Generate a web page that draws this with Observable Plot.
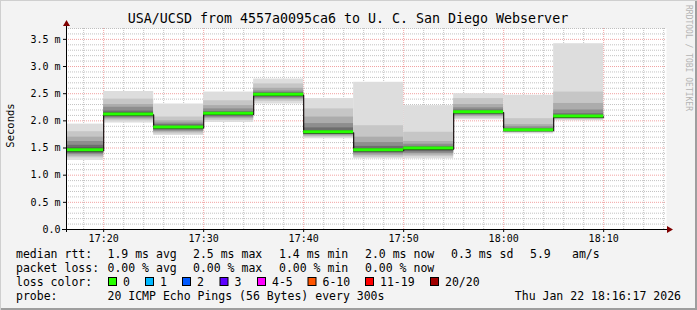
<!DOCTYPE html>
<html><head><meta charset="utf-8">
<script src="https://cdn.jsdelivr.net/npm/d3@7"></script>
<script src="https://cdn.jsdelivr.net/npm/@observablehq/plot@0.6"></script>
<style>
html,body{margin:0;padding:0;background:#f3f3f3;}
#chart{position:relative;width:697px;height:310px;overflow:hidden;}
#chart svg{display:block;}
</style></head><body><div id="chart"></div>
<script>
// ---------- data ----------
const title = "USA/UCSD from 4557a0095ca6 to U. C. San Diego Webserver";
const yLabel = "Seconds";
const credit = "RRDTOOL / TOBI OETIKER";
const chartDate = [2026, 0, 22];
const startTime = "17:16:17";
const endTime = "18:16:17";
const segmentEnds = ["17:20","17:25","17:30","17:35","17:40","17:45","17:50","17:55","18:00","18:05","18:10"];
const segmentMinutes = 5;
const medians = [1.45, 2.11, 1.87, 2.12, 2.47, 1.78, 1.45, 1.48, 2.15, 1.82, 2.07];
// smoke bands, outer -> inner (ms)
const smokeHi = [
  [1.94,1.80,1.70,1.62,1.55,1.50],
  [2.54,2.40,2.30,2.25,2.18,2.15],
  [2.31,2.07,2.00,1.96,1.93,1.90],
  [2.53,2.37,2.28,2.22,2.17,2.14],
  [2.77,2.68,2.60,2.55,2.52,2.50],
  [2.41,2.22,2.07,1.95,1.87,1.82],
  [2.71,1.91,1.70,1.60,1.53,1.49],
  [2.28,1.79,1.62,1.57,1.53,1.50],
  [2.50,2.41,2.30,2.24,2.20,2.17],
  [2.47,2.04,1.93,1.89,1.86,1.84],
  [3.42,2.53,2.32,2.20,2.13,2.10]
];
const smokeLo = [
  [1.27,1.32,1.35,1.38,1.40,1.42],
  [1.96,2.00,2.03,2.05,2.07,2.09],
  [1.73,1.76,1.79,1.81,1.83,1.85],
  [1.97,2.01,2.04,2.06,2.08,2.10],
  [2.31,2.36,2.39,2.41,2.43,2.45],
  [1.67,1.70,1.72,1.74,1.75,1.76],
  [1.30,1.33,1.36,1.39,1.41,1.43],
  [1.30,1.34,1.37,1.40,1.43,1.45],
  [2.02,2.05,2.08,2.10,2.12,2.13],
  [1.76,1.78,1.79,1.80,1.81,1.815],
  [2.00,2.02,2.03,2.04,2.05,2.06]
];
const bandColors = ["#dddddd","#c6c6c6","#acacac","#8e8e8e","#6e6e6e","#4e4e4e"];
const yMax = 3.7;
const yTicks = [0, 0.5, 1.0, 1.5, 2.0, 2.5, 3.0, 3.5];
const yTickLabels = ["0.0","0.5 m","1.0 m","1.5 m","2.0 m","2.5 m","3.0 m","3.5 m"];
const xTickTimes = ["17:20","17:30","17:40","17:50","18:00","18:10"];
const xTickLabels = ["17:20","17:30","17:40","17:50","18:00","18:10"];
const yMinorStep = 0.1;
const xMinorMinutes = 2;

const statsLabel = "median rtt:";
const statsItems = ["1.9 ms avg","2.5 ms max","1.4 ms min","2.0 ms now","0.3 ms sd","5.9","am/s"];
const lossLabel = "packet loss:";
const lossItems = ["0.00 % avg","0.00 % max","0.00 % min","0.00 % now"];
const lossColorLabel = "loss color:";
const lossColorNames = ["0","1","2","3","4-5","6-10","11-19","20/20"];
const lossColors = ["#26ff00","#00b8ff","#0059ff","#5e00ff","#ff00ff","#ff5500","#ff0000","#a00000"];
const medianColor = "#26ff00";
const probeLabel = "probe:";
const probeText = "20 ICMP Echo Pings (56 Bytes) every 300s";
const stampText = "Thu Jan 22 18:16:17 2026";

// ---------- build ----------
const t = s => { const p = s.split(":").map(Number); return new Date(Date.UTC(chartDate[0], chartDate[1], chartDate[2], p[0], p[1], p[2]||0)); };
const x0 = t(startTime), x1end = t(endTime);
const segs = segmentEnds.map((e, i) => {
  const end = t(e);
  const start = new Date(Math.max(end - segmentMinutes*60000, +x0));
  return {x1: start, x2: end, y: medians[i]};
});
const smokeRows = [];
segs.forEach((s, i) => bandColors.forEach((c, k) => smokeRows.push({x1: s.x1, x2: s.x2, lo: smokeLo[i][k], hi: smokeHi[i][k], color: c})));
const stepPts = [];
segs.forEach(s => { stepPts.push({x: s.x1, y: s.y}); stepPts.push({x: s.x2, y: s.y}); });
const minorY = d3.range(1, Math.round(yMax / yMinorStep) + 1).map(i => +(i*yMinorStep).toFixed(2)).filter(v => Math.abs(v/0.5 - Math.round(v/0.5)) > 1e-6);
const majorY = yTicks.filter(v => v > 0);
const xMajor = xTickTimes.map(t);
const minorX = d3.utcMinute.every(xMinorMinutes).range(x0, x1end).filter(d => d.getUTCMinutes() % 10 !== 0);
const yLab = new Map(yTicks.map((v, i) => [v, yTickLabels[i]]));
const xLab = new Map(xMajor.map((d, i) => [+d, xTickLabels[i]]));

const W = 697, H = 310, ML = 66, MR = 31, MT = 28, MB = 81;
const mono = "'DejaVu Sans Mono', monospace";
const svg = Plot.plot({
  width: W, height: H,
  marginLeft: ML, marginRight: MR, marginTop: MT, marginBottom: MB,
  style: {background: "transparent", fontFamily: mono, fontSize: "10px", color: "#000", overflow: "visible"},
  x: {type: "utc", domain: [x0, x1end], axis: null},
  y: {domain: [0, yMax], axis: null},
  marks: [
    Plot.frame({fill: "#ffffff", stroke: "none"}),
    Plot.ruleY(minorY, {stroke: "#8f8f8f", strokeOpacity: 0.55, strokeDasharray: "1,1"}),
    Plot.ruleX(minorX, {stroke: "#8f8f8f", strokeOpacity: 0.55, strokeDasharray: "1,1"}),
    Plot.ruleY(majorY, {stroke: "#e03030", strokeOpacity: 0.45, strokeDasharray: "1,1"}),
    Plot.ruleX(xMajor, {stroke: "#e03030", strokeOpacity: 0.45, strokeDasharray: "1,1"}),
    Plot.rect(smokeRows, {x1: "x1", x2: "x2", y1: "lo", y2: "hi", fill: "color"}),
    Plot.line(stepPts, {x: "x", y: "y", stroke: "#1a1010", strokeWidth: 1.2}),
    Plot.ruleY(segs, {x1: "x1", x2: "x2", y: "y", stroke: medianColor, strokeWidth: 3, dy: -1}),
    Plot.axisY({ticks: yTicks, tickFormat: d => yLab.get(d), tickSize: 3, tickPadding: 3, fontSize: 10, fontFamily: mono}),
    Plot.axisX({ticks: xMajor, tickFormat: d => xLab.get(+d), tickSize: 3, tickPadding: 2, fontSize: 10, fontFamily: mono}),
    Plot.ruleY([0], {stroke: "#000", strokeWidth: 1}),
    Plot.ruleX([x0], {stroke: "#000", strokeWidth: 1})
  ]
});
document.getElementById("chart").appendChild(svg);

// ---------- decorations ----------
const s = d3.select(svg);
const g = s.append("g").attr("font-family", mono).attr("fill", "#000").attr("text-anchor", "start");
const y0 = H - MB;
g.append("line").attr("x1", ML - 4).attr("x2", W - MR + 2).attr("y1", y0 + 0.5).attr("y2", y0 + 0.5).attr("stroke", "#000");
g.append("line").attr("x1", ML + 0.5).attr("x2", ML + 0.5).attr("y1", y0 + 3).attr("y2", MT - 3).attr("stroke", "#000");
g.append("path").attr("d", `M${W-MR+1},${y0-3}L${W-MR+7},${y0+0.5}L${W-MR+1},${y0+4}Z`).attr("fill", "#7f0000");
g.append("path").attr("d", `M${ML-3},${MT-2}L${ML+0.5},${MT-8}L${ML+4},${MT-2}Z`).attr("fill", "#7f0000");
g.append("rect").attr("x", 0).attr("y", H - 2).attr("width", W).attr("height", 2).attr("fill", "#9e9e9e");
g.append("rect").attr("x", W - 2).attr("y", 0).attr("width", 2).attr("height", H).attr("fill", "#9e9e9e");
g.append("rect").attr("x", 0).attr("y", 0).attr("width", W).attr("height", 1).attr("fill", "#cfcfcf");
g.append("rect").attr("x", 0).attr("y", 0).attr("width", 1).attr("height", H).attr("fill", "#cfcfcf");
g.append("text").attr("x", 348).attr("y", 23).attr("text-anchor", "middle").attr("font-size", "13.3px").text(title);
g.append("text").attr("transform", `translate(14,${(MT + y0) / 2 - 3}) rotate(-90)`).attr("text-anchor", "middle").attr("font-size", "10.5px").text(yLabel);
g.append("text").attr("transform", `translate(686,5) rotate(90)`).attr("text-anchor", "start").attr("font-size", "8px").attr("fill", "#b4b4b4").text(credit);
const fs = "11.5px";
const row = (y, label, items, xs) => {
  g.append("text").attr("x", 16).attr("y", y).attr("font-size", fs).text(label);
  items.forEach((it, i) => g.append("text").attr("x", xs[i]).attr("y", y).attr("font-size", fs).text(it));
};
row(258, statsLabel, statsItems, [107.5, 193, 279, 365, 451, 530, 572]);
row(272, lossLabel, lossItems, [107.5, 193, 279, 365]);
row(286, lossColorLabel, [], []);
const swX = [108, 145, 182, 219.5, 257, 307.5, 365, 430];
lossColorNames.forEach((n, i) => {
  g.append("rect").attr("x", swX[i] + 0.5).attr("y", 277.5).attr("width", 8).attr("height", 8).attr("fill", lossColors[i]).attr("stroke", "#000");
  g.append("text").attr("x", swX[i] + 15).attr("y", 286).attr("font-size", fs).text(n);
});
row(300, probeLabel, [probeText], [107.5]);
g.append("text").attr("x", 681).attr("y", 300).attr("text-anchor", "end").attr("font-size", fs).text(stampText);
</script>
</body></html>
